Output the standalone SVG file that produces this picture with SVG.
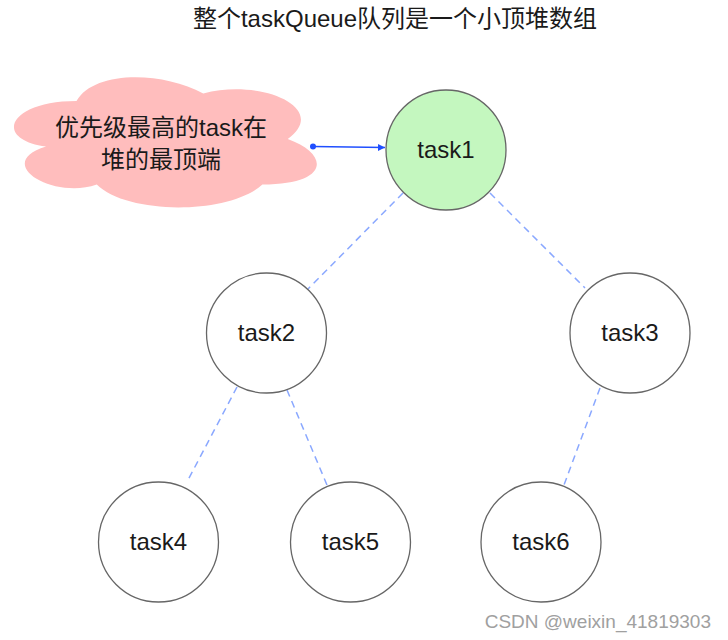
<svg xmlns="http://www.w3.org/2000/svg" width="728" height="640" viewBox="0 0 728 640">
<style>
.t{font-family:"Liberation Sans","Noto Sans CJK SC",Arial,sans-serif;fill:#1a1a1a}
.n{fill:#fff;stroke:#666;stroke-width:1.3}
.lbl{font-size:24px;text-anchor:middle}
.d{stroke:#8aa8ff;stroke-width:1.5;stroke-dasharray:7 5;fill:none}
</style>
<defs>
<marker id="ah" markerWidth="8" markerHeight="8" refX="7" refY="4" orient="auto" markerUnits="userSpaceOnUse">
<path d="M0,0.5 L7,4 L0,7.5 Z" fill="#1f4fff"/>
</marker>
</defs>
<rect width="728" height="640" fill="#fff"/>
<text class="t" x="395" y="27" font-size="24" text-anchor="middle">整个taskQueue队列是一个小顶堆数组</text>
<g id="connectors">
<line class="d" x1="403" y1="193" x2="308" y2="289"/>
<line class="d" x1="490" y1="193" x2="585" y2="288"/>
<line class="d" x1="237" y1="387" x2="188" y2="480"/>
<line class="d" x1="287" y1="390" x2="327" y2="485"/>
<line class="d" x1="600" y1="388" x2="564" y2="485"/>
<line x1="313" y1="146.5" x2="385" y2="147.5" stroke="#1f4fff" stroke-width="1.3" marker-end="url(#ah)"/>
<circle cx="313" cy="146.5" r="3" fill="#1f4fff"/>
</g>
<g id="cloud">
<path transform="translate(-8,63) scale(338,152)" fill="#ffbdbd" stroke="none" d="M0.25,0.25 C0.05,0.25 0,0.5 0.16,0.55 C0,0.66 0.18,0.9 0.31,0.8 C0.4,1 0.7,1 0.8,0.8 C1,0.8 1,0.6 0.875,0.5 C1,0.3 0.8,0.1 0.625,0.2 C0.5,0.05 0.3,0.05 0.25,0.25 Z"/>
<text class="t" x="161" y="136" font-size="24" text-anchor="middle">优先级最高的task在</text>
<text class="t" x="161" y="168" font-size="24" text-anchor="middle">堆的最顶端</text>
</g>
<g id="task1"><circle cx="446" cy="150" r="60" fill="#c4f7bf" stroke="#666" stroke-width="1.3"/><text class="t lbl" x="446" y="158">task1</text></g>
<g id="task2"><circle class="n" cx="266.5" cy="333" r="60"/><text class="t lbl" x="266.5" y="341">task2</text></g>
<g id="task3"><circle class="n" cx="630" cy="333" r="60"/><text class="t lbl" x="630" y="341">task3</text></g>
<g id="task4"><circle class="n" cx="158.5" cy="542" r="60"/><text class="t lbl" x="158.5" y="550">task4</text></g>
<g id="task5"><circle class="n" cx="350.5" cy="542" r="60"/><text class="t lbl" x="350.5" y="550">task5</text></g>
<g id="task6"><circle class="n" cx="541" cy="542" r="60"/><text class="t lbl" x="541" y="550">task6</text></g>
<text x="711" y="628" font-family="Liberation Sans,Arial,sans-serif" font-size="19" fill="#a0a0a0" text-anchor="end">CSDN @weixin_41819303</text>
</svg>
